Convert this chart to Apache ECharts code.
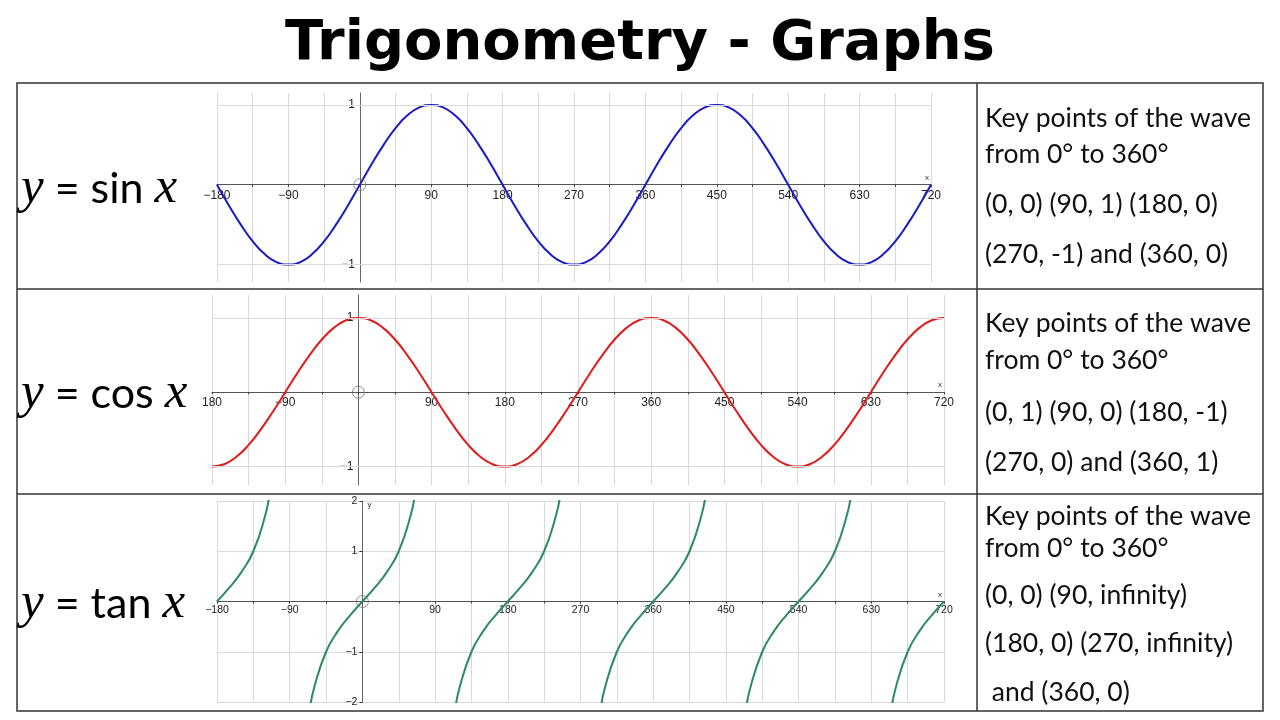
<!DOCTYPE html>
<html>
<head>
<meta charset="utf-8">
<title>Trigonometry - Graphs</title>
<script src="https://cdn.jsdelivr.net/npm/echarts@6/dist/echarts.min.js"></script>
<style>
  html, body { margin: 0; padding: 0; background: #fff; }
  #main { width: 1280px; height: 720px; }
</style>
</head>
<body>
<div id="main"></div>
<script>
// angles (degrees) the waves are read at
var waveAngles = [-180, -165, -150, -135, -120, -105, -90, -75, -60, -45, -30, -15,
    0, 15, 30, 45, 60, 75, 90, 105, 120, 135, 150, 165,
    180, 195, 210, 225, 240, 255, 270, 285, 300, 315, 330, 345,
    360, 375, 390, 405, 420, 435, 450, 465, 480, 495, 510, 525,
    540, 555, 570, 585, 600, 615, 630, 645, 660, 675, 690, 705, 720];

var sinValues = [0, -0.26, -0.5, -0.71, -0.87, -0.97, -1, -0.97, -0.87, -0.71, -0.5, -0.26,
    0, 0.26, 0.5, 0.71, 0.87, 0.97, 1, 0.97, 0.87, 0.71, 0.5, 0.26,
    0, -0.26, -0.5, -0.71, -0.87, -0.97, -1, -0.97, -0.87, -0.71, -0.5, -0.26,
    0, 0.26, 0.5, 0.71, 0.87, 0.97, 1, 0.97, 0.87, 0.71, 0.5, 0.26,
    0, -0.26, -0.5, -0.71, -0.87, -0.97, -1, -0.97, -0.87, -0.71, -0.5, -0.26, 0];

var cosValues = [-1, -0.97, -0.87, -0.71, -0.5, -0.26, 0, 0.26, 0.5, 0.71, 0.87, 0.97,
    1, 0.97, 0.87, 0.71, 0.5, 0.26, 0, -0.26, -0.5, -0.71, -0.87, -0.97,
    -1, -0.97, -0.87, -0.71, -0.5, -0.26, 0, 0.26, 0.5, 0.71, 0.87, 0.97,
    1, 0.97, 0.87, 0.71, 0.5, 0.26, 0, -0.26, -0.5, -0.71, -0.87, -0.97,
    -1, -0.97, -0.87, -0.71, -0.5, -0.26, 0, 0.26, 0.5, 0.71, 0.87, 0.97, 1];

// tan breaks at the asymptotes (null = gap)
var tanAngles = [-180, -165, -150, -135, -120, -115, -90,
    -65, -60, -45, -30, -15, 0, 15, 30, 45, 60, 65, 90,
    115, 120, 135, 150, 165, 180, 195, 210, 225, 240, 245, 270,
    295, 300, 315, 330, 345, 360, 375, 390, 405, 420, 425, 450,
    475, 480, 495, 510, 525, 540, 555, 570, 585, 600, 605, 630,
    655, 660, 675, 690, 705, 720];

var tanValues = [0, 0.27, 0.58, 1, 1.73, 2.14, null,
    -2.14, -1.73, -1, -0.58, -0.27, 0, 0.27, 0.58, 1, 1.73, 2.14, null,
    -2.14, -1.73, -1, -0.58, -0.27, 0, 0.27, 0.58, 1, 1.73, 2.14, null,
    -2.14, -1.73, -1, -0.58, -0.27, 0, 0.27, 0.58, 1, 1.73, 2.14, null,
    -2.14, -1.73, -1, -0.58, -0.27, 0, 0.27, 0.58, 1, 1.73, 2.14, null,
    -2.14, -1.73, -1, -0.58, -0.27, 0];

var originPoint = [[0, 0]];

// axis labels
var xLabelValues = [-180, -90, 90, 180, 270, 360, 450, 540, 630, 720];
var xLabelTexts = ['\u2212180', '\u221290', '90', '180', '270', '360', '450', '540', '630', '720'];
var cosXLabelTexts = ['180', '\u221290', '90', '180', '270', '360', '450', '540', '630', '720'];
var waveYLabelValues = [-1, 1];
var waveYLabelTexts = ['\u22121', '1'];
var tanYLabelValues = [-2, -1, 1, 2];
var tanYLabelTexts = ['\u22122', '\u22121', '1', '2'];

// key point notes in the right column
var sinNotes = ['Key points of the wave', 'from 0\u00b0 to 360\u00b0', '(0, 0) (90, 1) (180, 0)', '(270, -1) and (360, 0)'];
var cosNotes = ['Key points of the wave', 'from 0\u00b0 to 360\u00b0', '(0, 1) (90, 0) (180, -1)', '(270, 0) and (360, 1)'];
var tanNotes = ['Key points of the wave', 'from 0\u00b0 to 360\u00b0', '(0, 0) (90, infinity)', '(180, 0) (270, infinity)', ' and (360, 0)'];

var myChart = echarts.init(document.getElementById('main'));

// plot areas: [left, top, width, height, yMin, yMax]
var boxes = [
    [217, 93, 714, 189, -1.22, 1.15],
    [212, 295, 732, 190, -1.25, 1.31],
    [217, 501, 727, 201, -2, 2]
];
var X_MIN = -180, X_MAX = 720;

function pairs(xs, ys) {
    var res = [];
    for (var i = 0; i < xs.length; i++) {
        res.push([xs[i], ys[i]]);
    }
    return res;
}

function lookup(values, texts) {
    return function (v) {
        var i = values.indexOf(v);
        return i < 0 ? '' : texts[i];
    };
}

var gridColor = '#d9d9d9';
var axisColor = '#555';

function makeX(idx, labelTexts, fontSize, margin) {
    var b = boxes[idx];
    // move the x axis up from the bottom edge to y = 0
    var zeroFromBottom = b[3] * (0 - b[4]) / (b[5] - b[4]);
    return {
        type: 'value', gridIndex: idx, min: X_MIN, max: X_MAX, interval: 45,
        position: 'bottom', offset: -zeroFromBottom,
        name: 'x', nameLocation: 'end', nameGap: -6,
        nameTextStyle: {fontSize: 8, color: '#333', verticalAlign: 'bottom', padding: [0, 0, 3, 0]},
        axisLine: {onZero: false, lineStyle: {color: axisColor, width: 1}},
        axisTick: {show: true, length: 2, lineStyle: {color: '#333'}},
        axisLabel: {
            customValues: xLabelValues,
            formatter: lookup(xLabelValues, labelTexts),
            color: '#222', fontSize: fontSize, fontFamily: 'Liberation Sans', margin: margin
        },
        splitLine: {show: true, lineStyle: {color: gridColor, width: 1}}
    };
}

function makeY(idx, labelValues, labelTexts, showSplit, fontSize) {
    var b = boxes[idx];
    var zeroFromLeft = b[2] * (0 - X_MIN) / (X_MAX - X_MIN);
    return {
        type: 'value', gridIndex: idx, min: b[4], max: b[5],
        position: 'left', offset: -zeroFromLeft,
        axisLine: {onZero: false, lineStyle: {color: '#666', width: 1}},
        axisTick: {show: true, customValues: labelValues, length: 3, lineStyle: {color: '#333'}},
        axisLabel: {
            customValues: labelValues,
            formatter: lookup(labelValues, labelTexts),
            color: '#222', fontSize: fontSize, fontFamily: 'Liberation Sans', margin: 5
        },
        splitLine: {show: showSplit, lineStyle: {color: gridColor, width: 1}}
    };
}

function origin(idx, withLines) {
    var s = {
        type: 'scatter', xAxisIndex: idx, yAxisIndex: idx,
        data: originPoint, symbol: 'circle', symbolSize: 12, z: 4, silent: true,
        itemStyle: {color: 'rgba(0,0,0,0)', borderColor: '#777', borderWidth: 1}
    };
    if (withLines) {
        s.markLine = {
            silent: true, symbol: 'none', label: {show: false}, animation: false,
            lineStyle: {color: gridColor, type: 'solid', width: 1},
            data: [{yAxis: 1}, {yAxis: -1}]
        };
    }
    return s;
}

function curve(idx, data, color) {
    return {
        type: 'line', xAxisIndex: idx, yAxisIndex: idx,
        data: data, smooth: true, showSymbol: false, connectNulls: false, clip: true, z: 3,
        lineStyle: {color: color, width: 2}
    };
}

function noteTexts(lines, ys) {
    var out = [];
    for (var i = 0; i < lines.length; i++) {
        out.push({
            type: 'text', x: 985, y: ys[i],
            style: {text: lines[i], fontFamily: 'Lato', fontSize: 26.5, fill: '#111', verticalAlign: 'middle'}
        });
    }
    return out;
}

function equation(name, y) {
    return {
        type: 'text', x: 21, y: y,
        style: {
            text: '{v|y}{n| = ' + name + ' }{v|x}',
            verticalAlign: 'middle',
            rich: {
                v: {fontFamily: 'Liberation Serif', fontStyle: 'italic', fontSize: 51, fill: '#000'},
                n: {fontFamily: 'Lato', fontSize: 43, fill: '#000'}
            }
        }
    };
}

var lineStyle = {stroke: '#333', lineWidth: 1.5};
var tableLines = [
    {type: 'rect', shape: {x: 17, y: 83, width: 1246, height: 628}, style: {fill: 'none', stroke: '#333', lineWidth: 1.5}},
    {type: 'line', shape: {x1: 17, y1: 289, x2: 1263, y2: 289}, style: lineStyle},
    {type: 'line', shape: {x1: 17, y1: 494, x2: 1263, y2: 494}, style: lineStyle},
    {type: 'line', shape: {x1: 977, y1: 83, x2: 977, y2: 711}, style: lineStyle}
];

var graphics = [{
    type: 'text', x: 640, y: 44,
    style: {
        text: 'Trigonometry - Graphs', fontFamily: 'DejaVu Sans', fontWeight: 'bold',
        fontSize: 56, fill: '#000', align: 'center', verticalAlign: 'middle'
    }
}].concat(tableLines,
    [equation('sin', 189), equation('cos', 394), equation('tan', 604)],
    noteTexts(sinNotes, [118, 154, 204, 254]),
    noteTexts(cosNotes, [323, 360, 412, 462]),
    noteTexts(tanNotes, [516, 548, 595, 643, 692]));

var tanY = makeY(2, tanYLabelValues, tanYLabelTexts, true, 10.5);
tanY.interval = 1;
tanY.name = 'y';
tanY.nameLocation = 'end';
tanY.nameGap = -8;
tanY.nameTextStyle = {fontSize: 8, color: '#333', align: 'left', padding: [0, 0, 0, 5]};

var option = {
    backgroundColor: '#fff',
    animation: false,
    grid: boxes.map(function (b) {
        return {left: b[0], top: b[1], width: b[2], height: b[3]};
    }),
    xAxis: [
        makeX(0, xLabelTexts, 12, 5),
        makeX(1, cosXLabelTexts, 12, 4),
        makeX(2, xLabelTexts, 10.5, 3)
    ],
    yAxis: [
        makeY(0, waveYLabelValues, waveYLabelTexts, false, 12),
        makeY(1, waveYLabelValues, waveYLabelTexts, false, 12),
        tanY
    ],
    series: [
        origin(0, true),
        curve(0, pairs(waveAngles, sinValues), '#1a1ac8'),
        origin(1, true),
        curve(1, pairs(waveAngles, cosValues), '#e01b1b'),
        origin(2, false),
        curve(2, pairs(tanAngles, tanValues), '#2e8b5e')
    ],
    graphic: graphics
};

myChart.setOption(option);
</script>
</body>
</html>
